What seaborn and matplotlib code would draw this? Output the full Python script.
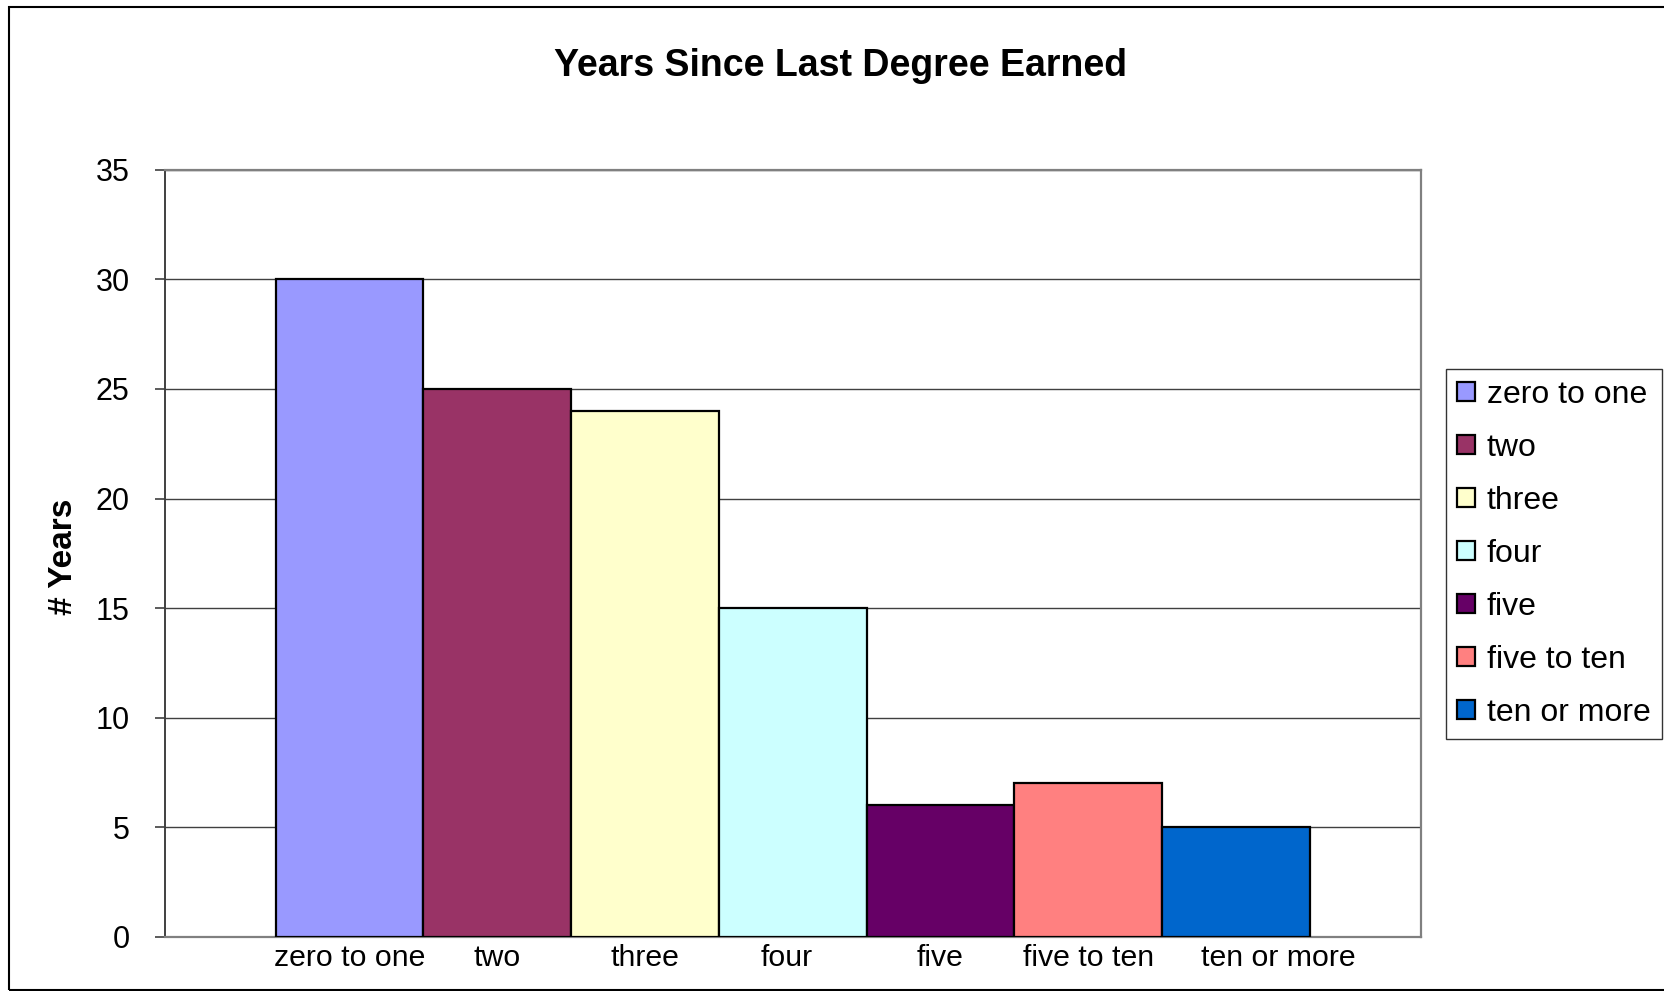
import matplotlib
matplotlib.use('Agg')
import matplotlib.pyplot as plt
import seaborn as sns
import pandas as pd
import numpy as np
from matplotlib.patches import Rectangle

# ---- data ----
categories = ["zero to one", "two", "three", "four", "five", "five to ten", "ten or more"]
values = [30, 25, 24, 15, 6, 7, 5]
colors = ["#9999FF", "#993366", "#FFFFCC", "#CCFFFF", "#660066", "#FF8080", "#0066CC"]
yticks = [0, 5, 10, 15, 20, 25, 30, 35]
title = "Years Since Last Degree Earned"
ylabel = "# Years"

sns.set_theme(style='white')
plt.rcParams['font.family'] = ['Liberation Sans', 'DejaVu Sans']
plt.rcParams['text.color'] = 'black'
plt.rcParams['axes.labelcolor'] = 'black'

fig = plt.figure(figsize=(16.65, 9.91), dpi=100)
ax = fig.add_axes([0.0989, 0.0549, 0.8533 - 0.0989, 0.8285 - 0.0549])

df = pd.DataFrame({'cat': categories, 'val': values})
sns.barplot(data=df, x='cat', y='val', hue='cat', order=categories, hue_order=categories,
            palette=colors, width=1.0, dodge=False, saturation=1,
            edgecolor='black', linewidth=1.6, ax=ax, legend=True, zorder=3)

ax.set_xlim(-1.251, 7.251)
ax.set_ylim(0, 35)
ax.set_yticks(yticks)
ax.set_axisbelow(True)
ax.yaxis.grid(True, color='#404040', lw=1.0)
ax.xaxis.grid(False)

# label placement nudges (text boxes in original)
label_nudge = np.array([0, 0, 0, -0.04, 0, 0, 0.29])
ax.set_xticks(np.arange(len(categories)) + label_nudge)
ax.set_xticklabels(categories, fontsize=21.8, color='black')
ax.tick_params(axis='x', length=0, pad=5)
ax.tick_params(axis='y', length=7.2, width=1.2, color='#404040', pad=18, labelsize=22, labelcolor='black', left=True)
ax.set_xlabel('')
ax.set_ylabel('')

for side in ['top', 'right', 'bottom']:
    ax.spines[side].set_color('#808080')
    ax.spines[side].set_linewidth(1.6)
ax.spines['left'].set_color('#404040')
ax.spines['left'].set_linewidth(1.4)

# legend
handles, labels = ax.get_legend_handles_labels()
if ax.get_legend() is not None:
    ax.get_legend().remove()
for h in handles:
    h.set_edgecolor('black')
    h.set_linewidth(1.6)
leg = fig.legend(handles, labels, loc='center left',
                 bbox_to_anchor=(1446 / 1665, 1 - 554 / 991), bbox_transform=fig.transFigure,
                 fontsize=23, frameon=True, fancybox=False, shadow=False,
                 handlelength=0.55, handleheight=0.55, handletextpad=0.38,
                 labelspacing=0.72, borderpad=0.35, borderaxespad=0)
leg.get_frame().set_edgecolor('black')
leg.get_frame().set_linewidth(1.0)
leg.get_frame().set_facecolor('white')
for t in leg.get_texts():
    t.set_color('black')

fig.text(0.505, 1 - 65.5 / 991, title, ha='center', va='center', fontsize=27,
         fontweight='bold', color='black')
fig.text(63.7 / 1665, 1 - 557 / 991, ylabel, rotation=90, ha='center', va='center',
         fontsize=24, fontweight='bold', color='black')

# outer chart border
fig.patches.append(Rectangle((9 / 1665, 1.0 / 991), 1.2, (990 - 6.5) / 991,
                             transform=fig.transFigure, fill=False, edgecolor='black', lw=1.5))

fig.savefig('out.png', dpi=100, facecolor='white')
